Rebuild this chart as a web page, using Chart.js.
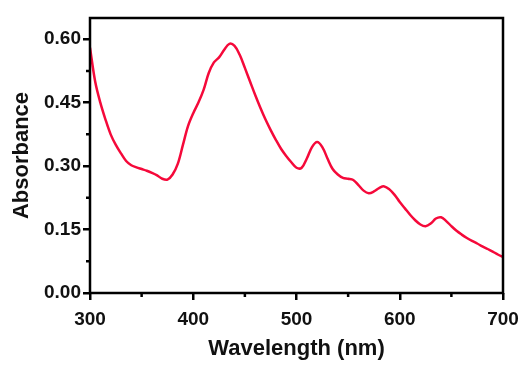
<!DOCTYPE html>
<html>
<head>
<meta charset="utf-8">
<script src="https://cdn.jsdelivr.net/npm/chart.js@4"></script>
<style>
    html, body { margin: 0; padding: 0; background: #fff; }
    #chart { display: block; }
</style>
</head>
<body>
<canvas id="chart" width="523" height="366"></canvas>
<script>
const wavelength = [300, 305, 310, 315, 320, 325, 330, 335, 340, 345, 350, 355, 360, 365, 370, 375, 380, 385, 390, 395,
    400, 405, 410, 415, 420, 425, 430, 435, 440, 445, 450, 455, 460, 465, 470, 475, 480, 485, 490, 495,
    500, 505, 510, 515, 520, 525, 530, 535, 540, 545, 550, 555, 560, 565, 570, 575, 580, 585, 590, 595,
    600, 605, 610, 615, 620, 625, 630, 635, 640, 645, 650, 655, 660, 665, 670, 675, 680, 685, 690, 695, 700];
const absorbance = [0.580, 0.500, 0.450, 0.410, 0.375, 0.350, 0.330, 0.312, 0.302, 0.297, 0.293, 0.289, 0.284, 0.278, 0.270, 0.268, 0.280, 0.305, 0.350, 0.395,
    0.425, 0.450, 0.480, 0.520, 0.545, 0.557, 0.575, 0.589, 0.584, 0.563, 0.532, 0.500, 0.468, 0.438, 0.410, 0.385, 0.362, 0.341, 0.324, 0.309,
    0.296, 0.296, 0.318, 0.345, 0.357, 0.345, 0.318, 0.293, 0.280, 0.272, 0.270, 0.267, 0.255, 0.242, 0.236, 0.240, 0.248, 0.252, 0.245, 0.232,
    0.215, 0.200, 0.185, 0.172, 0.162, 0.158, 0.164, 0.176, 0.179, 0.170, 0.158, 0.147, 0.138, 0.130, 0.123, 0.117, 0.110, 0.104, 0.098, 0.091, 0.085];

const xTicks = [300, 400, 500, 600, 700];
const xMinor = [350, 450, 550, 650];
const yTicks = [0, 0.15, 0.30, 0.45, 0.60];
const yMinor = [0.075, 0.225, 0.375, 0.525];

const points = wavelength.map((w, i) => ({ x: w, y: absorbance[i] }));

// frame round the plot + short minor ticks
const framePlugin = {
    id: "frame",
    afterDraw(chart) {
        const ctx = chart.ctx;
        const a = chart.chartArea;
        const xs = chart.scales.x;
        const ys = chart.scales.y;
        ctx.save();
        ctx.strokeStyle = "#000";
        ctx.lineWidth = 2.5;
        ctx.strokeRect(a.left, a.top, a.right - a.left, a.bottom - a.top);
        ctx.beginPath();
        xMinor.forEach(v => {
            const px = xs.getPixelForValue(v);
            ctx.moveTo(px, a.bottom);
            ctx.lineTo(px, a.bottom + 4);
        });
        yMinor.forEach(v => {
            const py = ys.getPixelForValue(v);
            ctx.moveTo(a.left, py);
            ctx.lineTo(a.left - 4, py);
        });
        ctx.stroke();
        ctx.restore();
    }
};

new Chart(document.getElementById("chart"), {
    type: "line",
    data: {
        datasets: [{
            data: points,
            borderColor: "#f5093a",
            borderWidth: 2.5,
            pointRadius: 0,
            tension: 0.35,
            fill: false
        }]
    },
    options: {
        responsive: false,
        animation: false,
        layout: { padding: { top: 18, right: 20, left: 0, bottom: 0 } },
        plugins: { legend: { display: false }, tooltip: { enabled: false } },
        scales: {
            x: {
                type: "linear",
                min: 300,
                max: 700,
                afterFit: s => { s.height = 73; s.paddingLeft = 0; s.paddingRight = 0; },
                afterBuildTicks: s => { s.ticks = xTicks.map(v => ({ value: v })); },
                border: { display: false },
                grid: { drawOnChartArea: false, drawTicks: true, tickLength: 7, color: "#000", lineWidth: 2.5 },
                ticks: {
                    color: "#111",
                    padding: 8,
                    maxRotation: 0,
                    font: { family: "Liberation Sans, Arial", size: 19, weight: "bold" }
                },
                title: {
                    display: true,
                    text: "Wavelength (nm)",
                    color: "#111",
                    padding: { top: 0, bottom: 4 },
                    font: { family: "Liberation Sans, Arial", size: 22, weight: "bold" }
                }
            },
            y: {
                min: 0,
                max: 0.65,
                afterFit: s => { s.width = 90; s.paddingTop = 0; s.paddingBottom = 0; },
                afterBuildTicks: s => { s.ticks = yTicks.map(v => ({ value: v })); },
                border: { display: false },
                grid: { drawOnChartArea: false, drawTicks: true, tickLength: 7, color: "#000", lineWidth: 2.5 },
                ticks: {
                    color: "#111",
                    padding: 2,
                    callback: v => Number(v).toFixed(2),
                    font: { family: "Liberation Sans, Arial", size: 19, weight: "bold" }
                },
                title: {
                    display: true,
                    text: "Absorbance",
                    color: "#111",
                    padding: { top: 9, bottom: 0 },
                    font: { family: "Liberation Sans, Arial", size: 22, weight: "bold" }
                }
            }
        }
    },
    plugins: [framePlugin]
});
</script>
</body>
</html>
